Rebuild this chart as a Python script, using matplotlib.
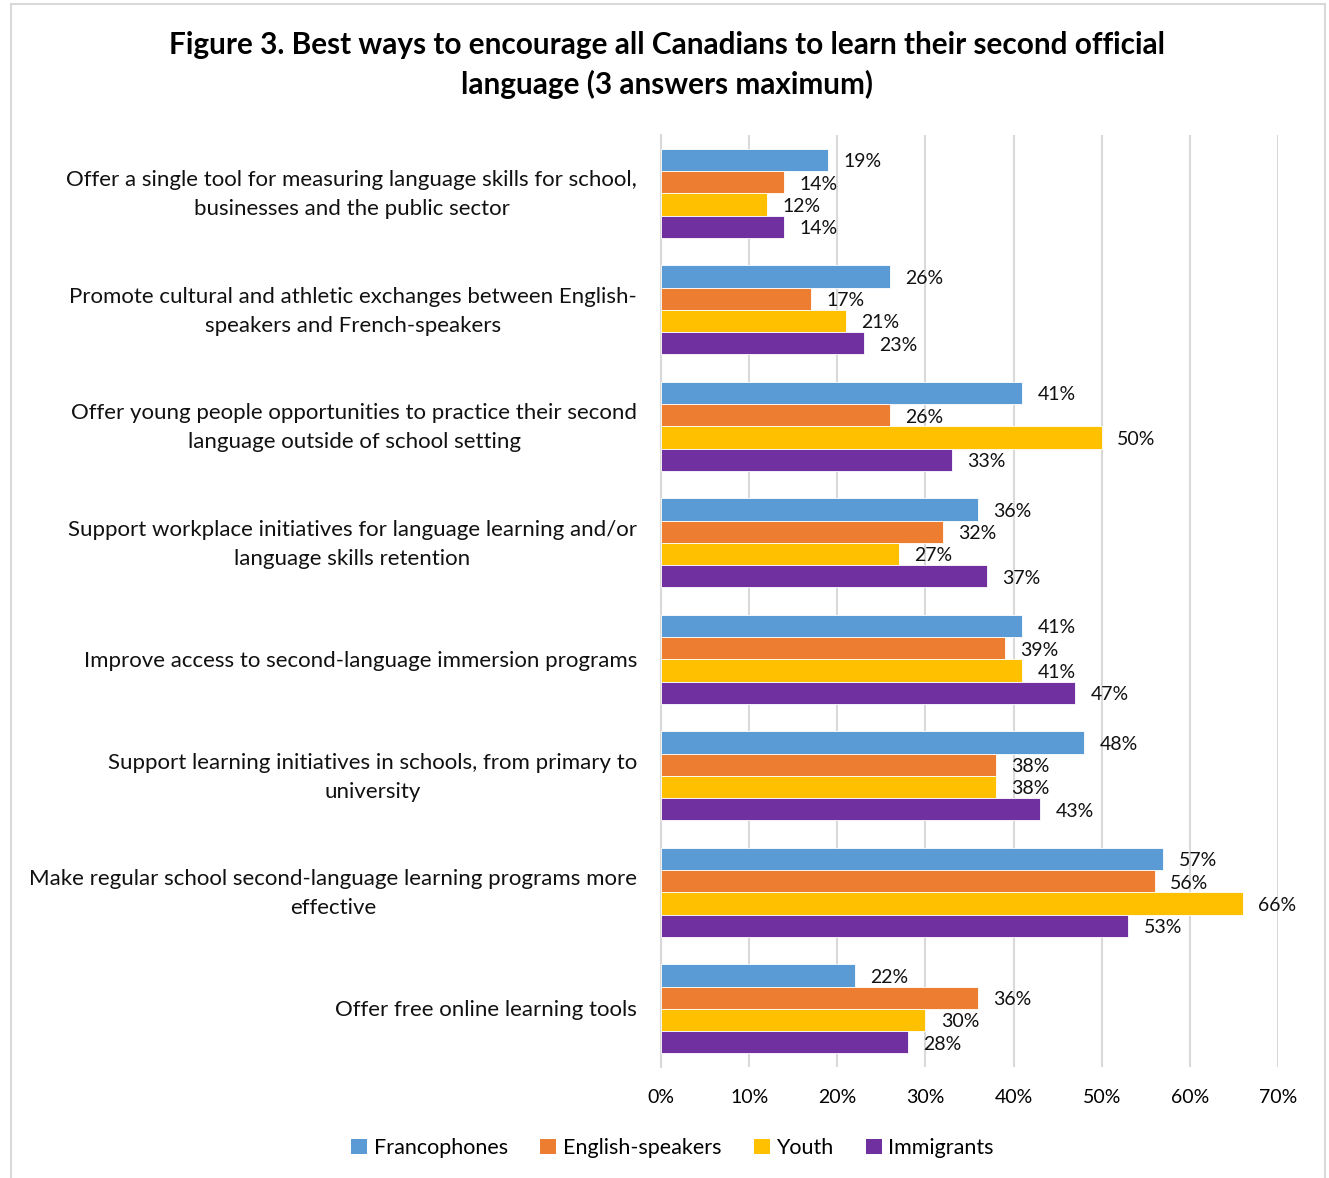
import matplotlib
matplotlib.use("Agg")
import matplotlib.pyplot as plt
import matplotlib.transforms as mtransforms
from matplotlib.lines import Line2D
from matplotlib.patches import Patch
from matplotlib.ticker import FuncFormatter

plt.rcParams['font.family'] = ['Lato', 'DejaVu Sans']

categories = [
    "Offer a single tool for measuring language skills for school,\nbusinesses and the public sector",
    "Promote cultural and athletic exchanges between English-\nspeakers and French-speakers",
    "Offer young people opportunities to practice their second\nlanguage outside of school setting",
    "Support workplace initiatives for language learning and/or\nlanguage skills retention",
    "Improve access to second-language immersion programs",
    "Support learning initiatives in schools, from primary to\nuniversity",
    "Make regular school second-language learning programs more\neffective",
    "Offer free online learning tools",
]
series_names = ["Francophones", "English-speakers", "Youth", "Immigrants"]
francophones = [19, 26, 41, 36, 41, 48, 57, 22]
english_speakers = [14, 17, 26, 32, 39, 38, 56, 36]
youth = [12, 21, 50, 27, 41, 38, 66, 30]
immigrants = [14, 23, 33, 37, 47, 43, 53, 28]
x_ticks = [0, 10, 20, 30, 40, 50, 60, 70]

colors = ["#5B9BD5", "#ED7D31", "#FFC000", "#7030A0"]
series = [francophones, english_speakers, youth, immigrants]

W, H = 1329, 1178
fig = plt.figure(figsize=(W / 100, H / 100), dpi=100)
fig.patch.set_facecolor("white")

# outer chart frame (open at bottom)
frame_c = "#d9d9d9"
fig.add_artist(Line2D([11 / W, 11 / W], [0, 1 - 4 / H], color=frame_c, lw=1.5))
fig.add_artist(Line2D([11 / W, 1325 / W], [1 - 4 / H, 1 - 4 / H], color=frame_c, lw=1.5))
fig.add_artist(Line2D([1325 / W, 1325 / W], [0, 1 - 4 / H], color=frame_c, lw=1.5))

left, right = 661 / W, 1278 / W
top, bottom = 1 - 135 / H, 1 - 1067 / H
ax = fig.add_axes([left, bottom, right - left, top - bottom])

bar_h = 89 / 116.5 / 4
for k, (vals, col) in enumerate(zip(series, colors)):
    ys = [i + (k - 1.5) * bar_h for i in range(len(categories))]
    ax.barh(ys, vals, height=bar_h, color=col, edgecolor="white", linewidth=0.6,
            label=series_names[k], zorder=3)
    for y, v in zip(ys, vals):
        ax.annotate(f"{v}%", (v, y), xytext=(11, -1.5), textcoords="offset points",
                    ha="left", va="center", fontsize=14, color="#111111")

ax.set_ylim(len(categories) - 0.5, -0.5)
ax.set_xlim(0, 70)
ax.set_xticks(x_ticks)
ax.xaxis.set_major_formatter(FuncFormatter(lambda v, p: f"{int(v)}%"))
ax.set_yticks([])

# category labels, right-aligned against the axis, centred line by line
label_tr = mtransforms.blended_transform_factory(ax.transAxes, ax.transData) + \
    mtransforms.ScaledTranslation(-24 / 100, -1.5 / 100, fig.dpi_scale_trans)
for i, cat in enumerate(categories):
    ax.text(0, i, cat, transform=label_tr, ha="right", va="center",
            multialignment="center", fontsize=16, linespacing=1.55, color="#111111")

ax.tick_params(axis="x", length=0, pad=16, labelsize=14)
ax.grid(axis="x", color="#d9d9d9", lw=1.5, zorder=0)
for s in ["top", "right", "bottom"]:
    ax.spines[s].set_visible(False)
ax.spines["left"].set_color("#d9d9d9")
ax.spines["left"].set_linewidth(1.5)

fig.text(0.502, 1 - 65 / H,
         "Figure 3. Best ways to encourage all Canadians to learn their second official\nlanguage (3 answers maximum)",
         ha="center", va="center", fontsize=21.4, fontweight="bold", linespacing=1.45)

handles = [Patch(facecolor=c, edgecolor="none") for c in colors]
fig.legend(handles, series_names, loc="center", bbox_to_anchor=(0.506, 1 - 1148 / H),
           ncol=4, frameon=False, fontsize=15.5, handlelength=0.75, handleheight=0.75,
           handletextpad=0.3, columnspacing=1.5)

fig.savefig("out.png", dpi=100, facecolor="white")
